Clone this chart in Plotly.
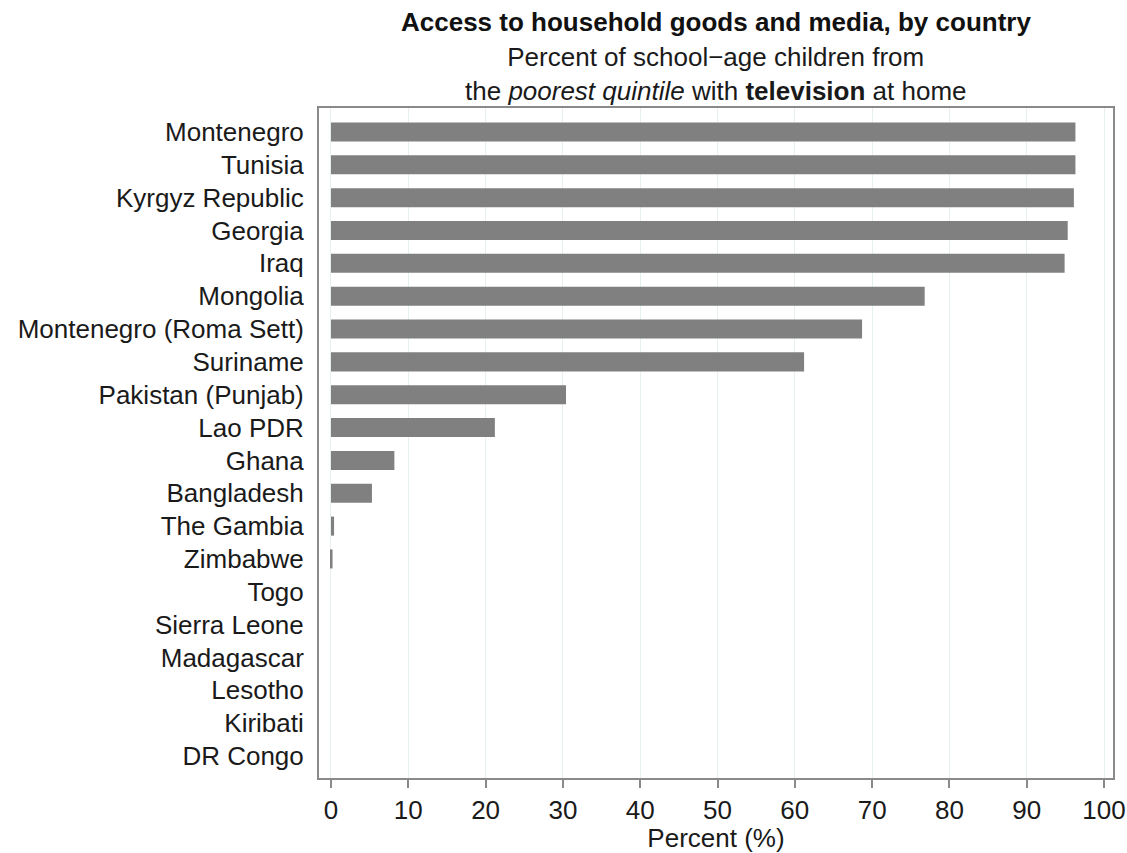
import plotly.graph_objects as go

countries = [
    "Montenegro", "Tunisia", "Kyrgyz Republic", "Georgia", "Iraq", "Mongolia",
    "Montenegro (Roma Sett)", "Suriname", "Pakistan (Punjab)", "Lao PDR", "Ghana",
    "Bangladesh", "The Gambia", "Zimbabwe", "Togo", "Sierra Leone", "Madagascar",
    "Lesotho", "Kiribati", "DR Congo",
]
values = [96.3, 96.3, 96.1, 95.3, 94.9, 76.8, 68.7, 61.2, 30.4, 21.2, 8.2,
          5.3, 0.4, 0.2, 0, 0, 0, 0, 0, 0]
x_ticks = [0, 10, 20, 30, 40, 50, 60, 70, 80, 90, 100]

FONT = "Liberation Sans, Arial, Helvetica, sans-serif"
FS = 26

fig = go.Figure(go.Bar(
    x=values, y=countries, orientation="h",
    marker=dict(color="#808080", line=dict(width=0)),
    width=0.58, hoverinfo="x+y",
))

L, R, T, B = 319, 14, 108, 75
W, H = 1127, 853
ph = H - T - B

def py(pix):
    return 1 + (T - pix) / ph

fig.update_layout(
    width=W, height=H,
    margin=dict(l=L, r=R, t=T, b=B, pad=0, autoexpand=False),
    paper_bgcolor="white", plot_bgcolor="white",
    font=dict(family=FONT, size=FS, color="#1a1a1a"),
    showlegend=False,
    annotations=[
        dict(text="<b>Access to household goods and media, by country</b>",
             x=0.5, xref="paper", y=py(22), yref="paper", yanchor="middle",
             showarrow=False, font=dict(size=FS, color="#111111")),
        dict(text="Percent of school\u2212age children from<br>"
                  "the <i>poorest quintile</i> with <b>television</b> at home",
             x=0.5, xref="paper", y=py(74), yref="paper", yanchor="middle",
             align="center", showarrow=False, font=dict(size=FS)),
    ],
)

fig.update_xaxes(
    range=[-1.55, 101.16], tickvals=x_ticks, ticktext=[str(v) for v in x_ticks],
    automargin=False,
    showgrid=True, gridcolor="#e6f0f0", gridwidth=1, zeroline=False,
    showline=True, linecolor="#8a8a8a", linewidth=2, mirror=True,
    ticks="outside", ticklen=8, tickwidth=1.5, tickcolor="#8a8a8a",
    tickfont=dict(size=FS),
    title=dict(text="Percent (%)", font=dict(size=FS), standoff=2),
)
fig.update_yaxes(
    type="category", categoryorder="array", categoryarray=countries,
    range=[19.67, -0.73], automargin=False,
    showgrid=False, zeroline=False,
    showline=True, linecolor="#8a8a8a", linewidth=2, mirror=True,
    ticks="", ticklabelstandoff=8, tickfont=dict(size=FS),
)

fig.write_html("out.html")
